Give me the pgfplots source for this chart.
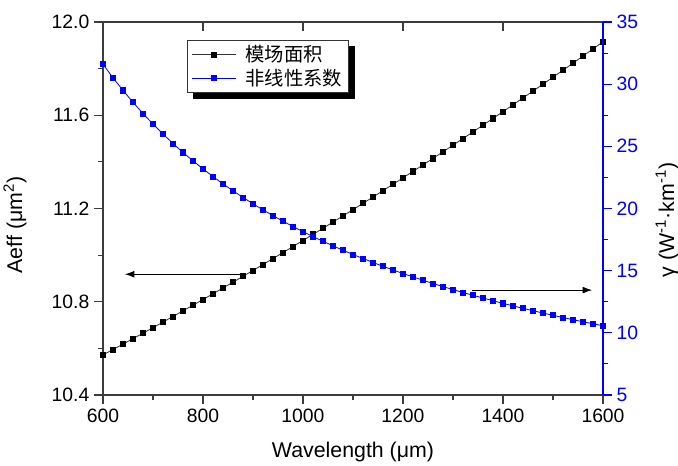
\documentclass[border=0pt]{standalone}
\usepackage{fontspec}
\setmainfont{Liberation Sans}
\newfontfamily\cjk{Noto Sans CJK SC}
\usepackage{pgfplots}
\pgfplotsset{compat=1.18}
\usetikzlibrary{arrows.meta}

\definecolor{axgray}{RGB}{60,60,60}
\newcommand\tickfont{\fontsize{14.5}{17}\selectfont}
\newcommand\labfont{\fontsize{16}{19}\selectfont}

\pgfplotstableread{
lam aeff
600 10.5720
620 10.5951
640 10.6183
660 10.6417
680 10.6652
700 10.6889
720 10.7128
740 10.7368
760 10.7609
780 10.7852
800 10.8097
820 10.8343
840 10.8591
860 10.8840
880 10.9091
900 10.9343
920 10.9597
940 10.9853
960 11.0110
980 11.0368
1000 11.0629
1020 11.0890
1040 11.1153
1060 11.1418
1080 11.1684
1100 11.1952
1120 11.2222
1140 11.2493
1160 11.2765
1180 11.3039
1200 11.3315
1220 11.3592
1240 11.3870
1260 11.4150
1280 11.4432
1300 11.4715
1320 11.5000
1340 11.5287
1360 11.5575
1380 11.5864
1400 11.6155
1420 11.6448
1440 11.6742
1460 11.7037
1480 11.7334
1500 11.7633
1520 11.7933
1540 11.8235
1560 11.8539
1580 11.8844
1600 11.9150
}\aefftable

\pgfplotstableread{
lam gamma
600 31.60
620 30.51
640 29.50
660 28.54
680 27.64
700 26.79
720 25.99
740 25.23
760 24.51
780 23.83
800 23.19
820 22.57
840 21.98
860 21.43
880 20.89
900 20.38
920 19.89
940 19.43
960 18.98
980 18.55
1000 18.14
1020 17.74
1040 17.36
1060 17.00
1080 16.64
1100 16.30
1120 15.98
1140 15.66
1160 15.35
1180 15.06
1200 14.77
1220 14.50
1240 14.23
1260 13.97
1280 13.72
1300 13.48
1320 13.24
1340 13.02
1360 12.80
1380 12.58
1400 12.37
1420 12.17
1440 11.97
1460 11.78
1480 11.59
1500 11.41
1520 11.23
1540 11.06
1560 10.89
1580 10.73
1600 10.57
}\gammatable

\pgfplotsset{
  common/.style={
    at={(0,0)}, anchor=south west,
    scale only axis, width=375pt, height=279.75pt,
    xmin=600, xmax=1600,
    clip=false,
    tick align=outside,
    major tick length=6.75pt,
    minor tick length=4pt,
    tick label style={font=\tickfont},
    label style={font=\labfont},
    /pgf/number format/assume math mode=true,
  },
}

\begin{document}
\begin{tikzpicture}
% left axis: mode area
\begin{axis}[common,
    ymin=10.4, ymax=12.0,
    xtick={600,800,...,1600}, minor x tick num=1,
    ytick={10.4,10.8,11.2,11.6,12.0}, minor y tick num=1,
    xtick pos=left, ytick pos=left,
    axis line style={axgray, line width=0.9pt},
    every tick/.style={axgray, line width=0.8pt},
    yticklabel style={/pgf/number format/.cd, fixed, fixed zerofill, precision=1},
    xticklabel style={/pgf/number format/.cd, set thousands separator={}},
    xlabel={Wavelength (μm)},
    xlabel style={at={(axis description cs:0.5,-0.153)}, anchor=center},
    ylabel={Aeff (μm\textsuperscript{2})},
    ylabel style={at={(axis description cs:-0.176,0.456)}, anchor=center, rotate=0},
]
\addplot[black!80, line width=0.6pt, mark=square*, mark size=1.9pt,
    mark options={solid, fill=black, draw=black}]
    table[x=lam, y=aeff] {\aefftable};
\draw[-{Latex[length=7pt,width=5pt]}, black, line width=0.5pt]
    (axis cs:882,10.918) -- (axis cs:644,10.918);
\draw[-{Latex[length=7pt,width=5pt]}, black, line width=0.5pt]
    (axis cs:1338,10.850) -- (axis cs:1578,10.850);
\end{axis}

% top ticks
\begin{axis}[common,
    ymin=10.4, ymax=12.0,
    axis x line*=top, axis y line=none,
    tick align=inside,
    xtick={600,800,...,1600}, xticklabels={},
    axis line style={axgray, line width=0.9pt},
    every tick/.style={axgray, line width=0.8pt},
]
\end{axis}

% right axis: nonlinear coefficient
\begin{axis}[common,
    ymin=5, ymax=35,
    axis y line*=right, axis x line=none,
    ytick={5,10,...,35}, minor y tick num=1,
    y axis line style={blue, line width=0.9pt},
    every tick/.style={blue, line width=0.8pt},
    yticklabel style={blue},
    ylabel={γ (W\textsuperscript{-1}·km\textsuperscript{-1})},
    ylabel style={at={(axis description cs:1.128,0.469)}, anchor=center, rotate=0},
    legend style={name=leg, at={(0.168,0.952)}, anchor=north west,
        draw=black!80, line width=0.6pt, fill=white,
        font=\cjk\tickfont, inner xsep=3pt, inner ysep=2pt,
        row sep=0pt,
        /tikz/every odd column/.append style={column sep=5pt}},
    legend cell align=left,
    legend image code/.code={%
        \path[draw=none, fill=none] (0pt,-5.5pt) rectangle (33pt,2pt);
        \draw[mark repeat=2, mark phase=2] plot coordinates {(0pt,0pt) (16.5pt,0pt) (33pt,0pt)};},
]
\addlegendimage{black!80, line width=0.6pt, mark=square*, mark size=1.9pt,
    mark options={solid, fill=black, draw=black}}
\addlegendentry{模场面积}
\addplot[blue, line width=0.6pt, mark=square*, mark size=1.9pt,
    mark options={solid, fill=blue, draw=blue}]
    table[x=lam, y=gamma] {\gammatable};
\addlegendentry{非线性系数}
\end{axis}

% legend shadow (right and bottom strips)
\fill[black] ([yshift=-4.5pt]leg.north east) rectangle ([xshift=4.5pt,yshift=-4.5pt]leg.south east);
\fill[black] ([xshift=4.5pt]leg.south west) rectangle ([xshift=4.5pt,yshift=-4.5pt]leg.south east);

\pgfresetboundingbox
\path (-77.25pt,-52.5pt) rectangle (431.25pt,296.25pt);
\end{tikzpicture}
\end{document}
